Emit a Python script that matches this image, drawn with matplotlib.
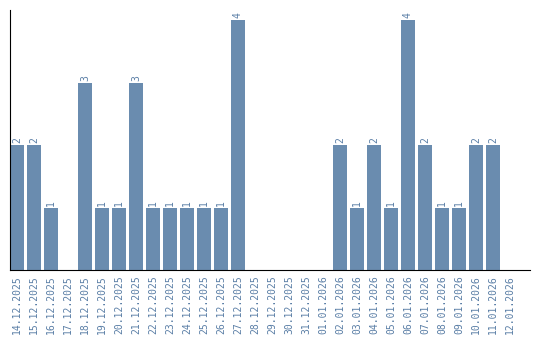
import matplotlib
matplotlib.use("Agg")
from matplotlib import pyplot as plt

dates = ["14.12.2025", "15.12.2025", "16.12.2025", "17.12.2025", "18.12.2025",
         "19.12.2025", "20.12.2025", "21.12.2025", "22.12.2025", "23.12.2025",
         "24.12.2025", "25.12.2025", "26.12.2025", "27.12.2025", "28.12.2025",
         "29.12.2025", "30.12.2025", "31.12.2025", "01.01.2026", "02.01.2026",
         "03.01.2026", "04.01.2026", "05.01.2026", "06.01.2026", "07.01.2026",
         "08.01.2026", "09.01.2026", "10.01.2026", "11.01.2026", "12.01.2026"]
counts = [2, 2, 1, 0, 3, 1, 1, 3, 1, 1, 1, 1, 1, 4, 0,
          0, 0, 0, 0, 2, 1, 2, 1, 4, 2, 1, 1, 2, 2, 0]

barColor = "#6a8caf"
textColor = "#5a7ea6"

fig = plt.figure(figsize=(5.4, 3.4), dpi=100)
ax = fig.add_axes([10 / 540, 70 / 340, 520 / 540, 260 / 340])

x = list(range(len(dates)))
ax.bar(x, counts, width=14 / 17, color=barColor)

# value labels above non-empty bars
for i, c in zip(x, counts):
    if c > 0:
        ax.text(i, c + 0.03, str(c), rotation=90, ha="center", va="bottom",
                fontsize=7, color=textColor, family="DejaVu Sans Mono")

ax.set_xlim(-7 / 17, 30.18)
ax.set_ylim(0, 4.16)
ax.set_xticks(x)
ax.set_xticklabels(dates, rotation=90, fontsize=7, color=textColor,
                   family="DejaVu Sans Mono")
ax.tick_params(axis="x", length=0, pad=4)
ax.set_yticks([])
ax.spines["top"].set_visible(False)
ax.spines["right"].set_visible(False)

fig.savefig("out.png", dpi=100)
